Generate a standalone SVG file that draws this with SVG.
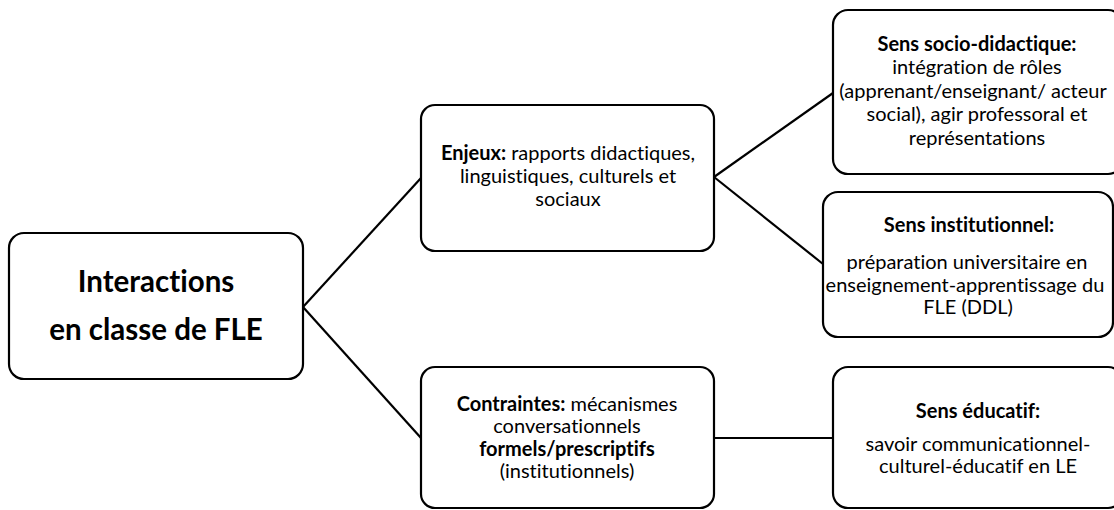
<svg xmlns="http://www.w3.org/2000/svg" width="1114" height="510" viewBox="0 0 1114 510">
  <style>
    .box { fill: #ffffff; stroke: #000000; stroke-width: 2.2; }
    .edge { fill: none; stroke: #000000; stroke-width: 2.2; }
    text { font-family: Lato, "Liberation Sans", sans-serif; fill: #000000; text-anchor: middle; font-variant-ligatures: none; }
    .t { font-size: 20px; }
    .title { font-size: 29.5px; font-weight: bold; }
    .b { font-weight: bold; }
  </style>
  <rect width="1114" height="510" fill="#ffffff"/>
  <g id="connectors">
    <line class="edge" x1="303" y1="307" x2="421" y2="178"/>
    <line class="edge" x1="303" y1="307" x2="421" y2="438"/>
    <line class="edge" x1="714" y1="177" x2="833" y2="93"/>
    <line class="edge" x1="714" y1="177" x2="823" y2="264"/>
    <line class="edge" x1="714" y1="438" x2="833" y2="438"/>
  </g>
  <g id="node-interactions">
    <rect class="box" x="9" y="233" width="294" height="146" rx="15"/>
    <text class="title" x="156" y="292">Interactions</text>
    <text class="title" x="156" y="340">en classe de FLE</text>
  </g>
  <g id="node-enjeux">
    <rect class="box" x="421" y="105" width="293" height="146" rx="14"/>
    <text class="t" x="568" y="160"><tspan class="b">Enjeux:</tspan> rapports didactiques,</text>
    <text class="t" x="568" y="183">linguistiques, culturels et</text>
    <text class="t" x="568" y="206">sociaux</text>
  </g>
  <g id="node-contraintes">
    <rect class="box" x="421" y="367" width="293" height="141" rx="14"/>
    <text class="t" x="567" y="411"><tspan class="b">Contraintes:</tspan> mécanismes</text>
    <text class="t" x="567" y="433">conversationnels</text>
    <text class="t b" x="567" y="456">formels/prescriptifs</text>
    <text class="t" x="567" y="478">(institutionnels)</text>
  </g>
  <g id="node-socio">
    <rect class="box" x="833" y="10" width="290" height="164" rx="15"/>
    <text class="t b" x="977" y="51">Sens socio-didactique:</text>
    <text class="t" x="977" y="74">intégration de rôles</text>
    <text class="t" x="973" y="98">(apprenant/enseignant/ acteur</text>
    <text class="t" x="977" y="121">social), agir professoral et</text>
    <text class="t" x="977" y="145">représentations</text>
  </g>
  <g id="node-institutionnel">
    <rect class="box" x="823" y="192" width="290" height="145" rx="15"/>
    <text class="t b" x="969" y="232">Sens institutionnel:</text>
    <text class="t" x="967" y="269">préparation universitaire en</text>
    <text class="t" x="965" y="292">enseignement-apprentissage du</text>
    <text class="t" x="968" y="314">FLE (DDL)</text>
  </g>
  <g id="node-educatif">
    <rect class="box" x="833" y="367" width="290" height="141" rx="15"/>
    <text class="t b" x="978" y="418">Sens éducatif:</text>
    <text class="t" x="978" y="451">savoir communicationnel-</text>
    <text class="t" x="978" y="473">culturel-éducatif en LE</text>
  </g>
</svg>
